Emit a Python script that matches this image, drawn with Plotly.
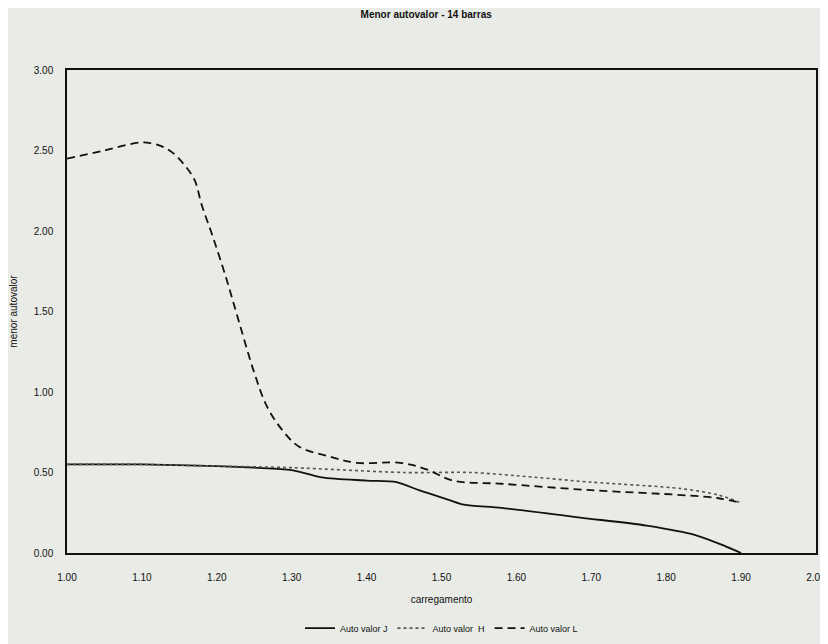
import plotly.graph_objects as go

# Auto valor J (solid)
x_j = [1.00, 1.10, 1.20, 1.25, 1.30, 1.34, 1.40, 1.44, 1.47, 1.51, 1.53, 1.58, 1.685, 1.774, 1.84, 1.88, 1.90]
y_j = [0.55, 0.55, 0.54, 0.53, 0.515, 0.47, 0.45, 0.44, 0.39, 0.33, 0.30, 0.28, 0.22, 0.17, 0.11, 0.04, 0.00]

# Auto valor H (dotted)
x_h = [1.00, 1.10, 1.20, 1.30, 1.45, 1.54, 1.60, 1.70, 1.82, 1.87, 1.90]
y_h = [0.55, 0.55, 0.54, 0.53, 0.50, 0.50, 0.48, 0.44, 0.40, 0.36, 0.31]

# Auto valor L (dashed)
x_l = [1.00, 1.05, 1.10, 1.124, 1.14, 1.155, 1.17, 1.18, 1.195, 1.213, 1.23, 1.25, 1.267, 1.288,
       1.31, 1.35, 1.387, 1.445, 1.48, 1.515, 1.58, 1.70, 1.82, 1.87, 1.90]
y_l = [2.45, 2.50, 2.55, 2.53, 2.49, 2.42, 2.32, 2.16, 1.96, 1.70, 1.43, 1.12, 0.91, 0.76,
       0.66, 0.60, 0.56, 0.56, 0.52, 0.45, 0.43, 0.39, 0.36, 0.34, 0.31]

x_ticks = [1.00, 1.10, 1.20, 1.30, 1.40, 1.50, 1.60, 1.70, 1.80, 1.90, 2.00]
y_ticks = [0.00, 0.50, 1.00, 1.50, 2.00, 2.50, 3.00]

FONT = "Liberation Sans, Arial, sans-serif"
BG = "#e8ebe6"

fig = go.Figure()
fig.add_trace(go.Scatter(x=x_j, y=y_j, mode="lines", name="Auto valor J",
                         line=dict(color="#111111", width=1.8, shape="spline", smoothing=0.8)))
fig.add_trace(go.Scatter(x=x_h, y=y_h, mode="lines", name="Auto valor  H",
                         line=dict(color="#555555", width=1.6, dash="dot", shape="spline", smoothing=0.8)))
fig.add_trace(go.Scatter(x=x_l, y=y_l, mode="lines", name="Auto valor L",
                         line=dict(color="#111111", width=1.8, dash="8px,5px", shape="spline", smoothing=1.0)))

fig.update_layout(
    width=820, height=636,
    paper_bgcolor=BG, plot_bgcolor=BG,
    margin=dict(l=59, r=12, t=62, b=91),
    font=dict(family=FONT, size=10, color="#111111"),
    title=dict(text="<b>Menor autovalor - 14 barras</b>", x=0.51, xanchor="center",
               y=0.989, yanchor="middle", font=dict(size=10, family=FONT, color="#111111")),
    xaxis=dict(range=[1.0, 2.0], tickvals=x_ticks, ticktext=[f"{v:.2f}" for v in x_ticks],
               showgrid=False, zeroline=False, showline=True, linecolor="#111111", linewidth=1.5,
               mirror=True, ticks="", ticklabelstandoff=14, automargin=False,
               title=dict(text="carregamento", font=dict(size=10), standoff=14)),
    yaxis=dict(range=[0.0, 3.0], tickvals=y_ticks, ticktext=[f"{v:.2f}" for v in y_ticks],
               showgrid=False, zeroline=False, showline=True, linecolor="#111111", linewidth=1.5,
               mirror=True, ticks="", ticklabelstandoff=10, automargin=False,
               title=dict(text="menor autovalor", font=dict(size=10), standoff=16)),
    legend=dict(orientation="h", x=0.5, xanchor="center", yref="container", y=0.025,
                yanchor="middle", bgcolor="rgba(0,0,0,0)", font=dict(size=9),
                itemwidth=30, tracegroupgap=0),
    showlegend=True,
)

fig.write_html("out.html")
